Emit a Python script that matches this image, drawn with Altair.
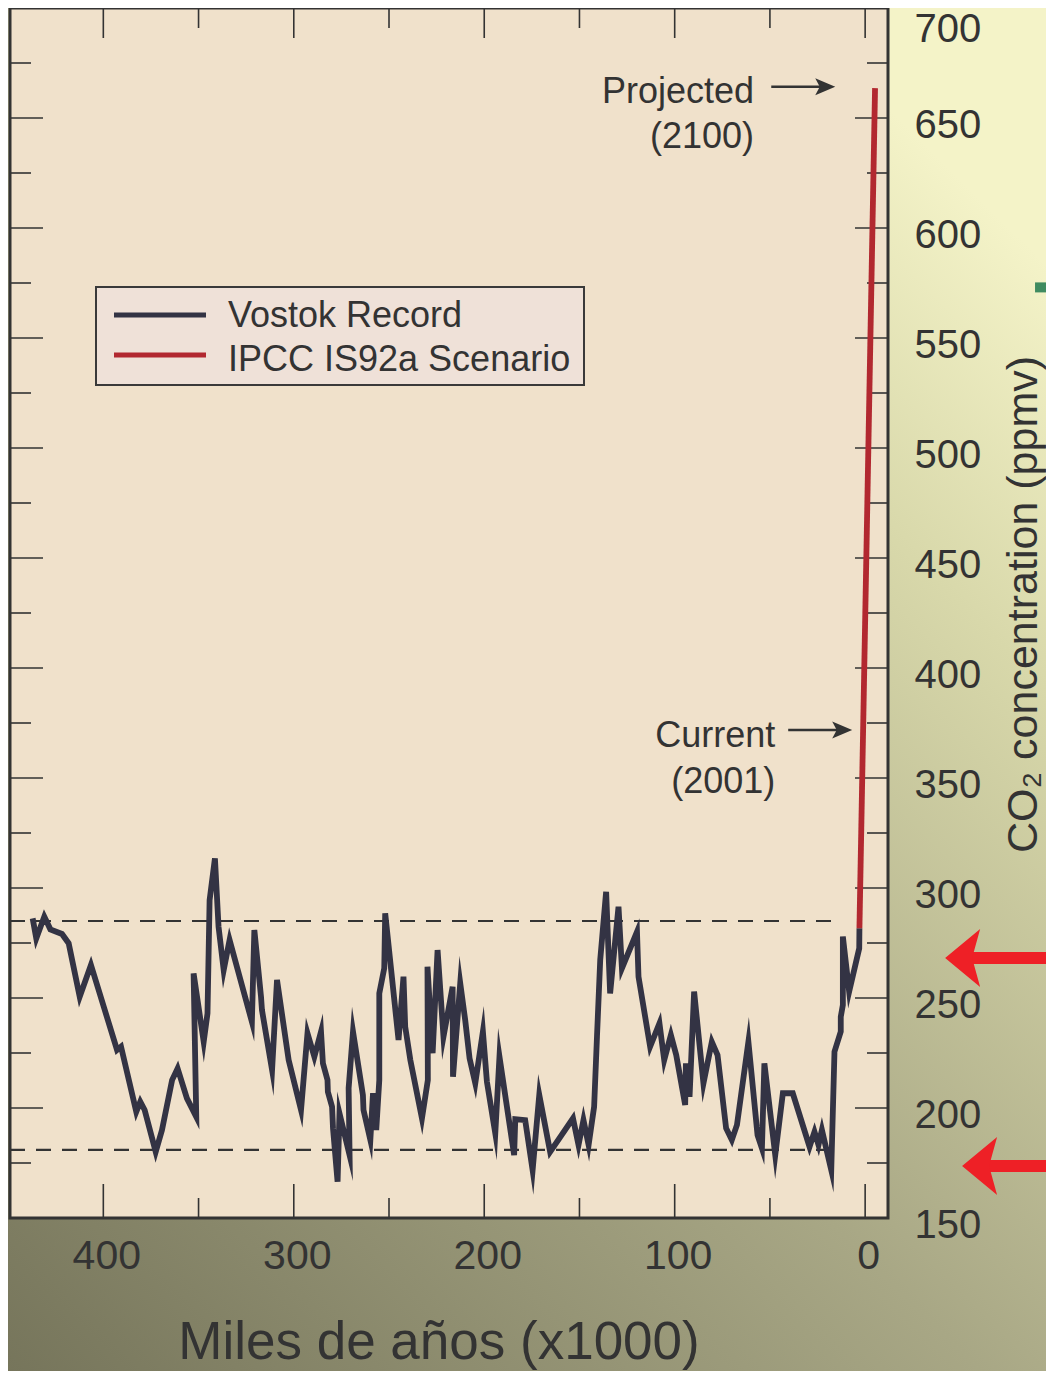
import altair as alt
import pandas as pd

# ---------------- data ----------------
vostok_kyr = [437.1, 435.2, 431.0, 427.8, 421.7, 418.2, 412.4, 406.5, 392.8, 390.7,
              382.7, 380.6, 378.3, 372.5, 369.2, 363.9, 361.0, 356.1, 351.2, 352.6,
              347.3, 345.3, 344.2, 341.4, 339.5, 336.8, 333.7, 322.0, 320.7, 317.2,
              316.7, 311.4, 308.8, 302.7, 296.2, 292.8, 289.2, 285.7, 284.7, 282.3,
              282.1, 279.9, 279.4, 277.0, 276.0, 270.7, 271.2, 268.9, 263.7, 263.4,
              259.8, 258.4, 256.7, 255.1, 255.1, 252.5, 252.0, 245.0, 242.4, 241.5,
              238.8, 232.7, 229.6, 229.8, 227.1, 224.5, 221.4, 216.6, 216.4, 212.6,
              210.0, 207.7, 204.7, 200.7, 198.6, 194.2, 192.0, 184.3, 183.7, 178.5,
              174.6, 171.1, 165.4, 153.4, 150.5, 147.9, 145.2, 142.3, 140.8, 139.1,
              136.0, 133.9, 129.5, 127.7, 119.8, 119.0, 112.9, 108.0, 105.5, 102.0,
              99.2, 94.5, 94.1, 92.2, 89.8, 84.9, 80.5, 77.5, 73.0, 70.0,
              67.3, 61.3, 56.5, 54.2, 52.9, 47.2, 43.2, 38.0, 29.2, 26.6,
              24.5, 22.7, 17.8, 16.1, 12.8, 12.8, 11.7, 11.7, 8.4, 3.1, 3.0]
vostok_ppmv = [286.2, 277.1, 287.0, 281.2, 279.1, 274.9, 250.6, 265.0, 226.4, 227.9,
               198.3, 202.9, 199.1, 180.1, 190.0, 212.7, 218.0, 204.4, 196.0, 261.2,
               230.1, 243.0, 294.5, 313.5, 282.4, 262.7, 276.4, 239.2, 280.9, 250.6,
               244.5, 217.3, 258.2, 221.8, 199.1, 234.0, 223.3, 234.7, 220.3, 212.7,
               207.4, 200.6, 190.8, 166.5, 197.6, 178.6, 209.0, 234.7, 205.9, 199.1,
               185.5, 206.7, 190.0, 212.7, 252.1, 263.5, 288.5, 230.9, 259.7, 237.0,
               221.8, 195.3, 212.7, 264.2, 224.9, 271.8, 232.4, 255.1, 214.2, 256.7,
               240.0, 222.6, 211.2, 234.7, 212.0, 188.5, 223.3, 178.6, 194.9, 194.5,
               171.8, 205.9, 180.1, 195.3, 183.2, 194.5, 183.2, 200.6, 232.4, 267.3,
               298.3, 252.1, 291.5, 263.5, 280.1, 259.7, 227.9, 238.5, 221.8, 233.2,
               224.1, 201.4, 220.3, 205.1, 252.9, 211.2, 230.1, 224.1, 190.8, 185.5,
               192.3, 230.1, 187.7, 181.7, 220.3, 178.6, 206.7, 206.7, 182.4, 189.2,
               183.2, 190.0, 171.8, 225.6, 234.7, 241.5, 246.8, 277.9, 252.9, 272.6, 281.7]
ipcc_kyr = [3.0, -5.2]
ipcc_ppmv = [281.7, 663.6]

series_names = ["Vostok Record", "IPCC IS92a Scenario"]
series_colors = ["#333344", "#b22830"]

x_label_values = [0, 100, 200, 300, 400]
x_minor_ticks = [50, 150, 250, 350]
y_label_values = [150, 200, 250, 300, 350, 400, 450, 500, 550, 600, 650, 700]
y_major_ticks = [200, 250, 300, 350, 400, 450, 500, 550, 600, 650]
y_minor_ticks = [175, 225, 275, 325, 375, 425, 475, 525, 575, 625, 675]

ref_levels = [285.0, 181.0]
ref_from = [449.0, 449.0]
ref_to = [16.8, 16.8]

note_text = ["Projected", "(2100)", "Current", "(2001)"]
note_kyr = [58.3, 58.3, 47.2, 47.2]
note_ppmv = [656.7, 636.4, 364.2, 343.2]

pointer_ppmv = [664.2, 371.8]
pointer_from = [49.3, 40.4]
pointer_to = [15.7, 6.8]

red_arrow_ppmv = [268.2, 173.6]
red_arrow_tip = [-42.0, -50.9]
red_arrow_tail = [-100.0, -100.0]

green_mark_ppmv = [573.0]
green_mark_from = [-89.2]
green_mark_to = [-100.0]

x_title = "Miles de años (x1000)"
y_title = "CO\u2082 concentration (ppmv)"

# ---------------- styling ----------------
W, H = 878, 1210
PAD_L, PAD_T, PAD_R, PAD_B = 2, 0, 158, 153
FONT = "Liberation Sans, Arial, Helvetica, sans-serif"
INK = "#333333"

xs = alt.Scale(domain=[449, -12], nice=False, zero=False)
ys = alt.Scale(domain=[150, 700], nice=False, zero=False)
one = pd.DataFrame({"a": [0]})

x_axis = alt.Axis(values=x_label_values, title=x_title, orient="bottom", domain=False, ticks=False,
                  tickSize=0, grid=False, labelFontSize=41, labelFont=FONT, labelColor=INK,
                  labelPadding=50, labelBaseline="alphabetic", labelFlush=False, labelOverlap=False,
                  labelOffset=3, format="d", titleFontSize=53, titleFont=FONT,
                  titleFontWeight="normal", titleColor=INK, titleX=428.5, titleY=140,
                  titleBaseline="alphabetic", titleAlign="center", zindex=1)
y_axis = alt.Axis(values=y_label_values, title=y_title, orient="right", domain=False, ticks=False,
                  tickSize=0, grid=False, labelFontSize=40, labelFont=FONT, labelColor=INK,
                  labelPadding=26, labelAlign="left", labelBaseline="alphabetic",
                  labelOffset={"condition": {"test": "datum.value >= 700", "value": 33}, "value": 19},
                  labelFlush=False, labelOverlap=False, format="d",
                  titleFontSize=43, titleFont=FONT, titleFontWeight="normal", titleColor=INK,
                  titleAngle=270, titleX=148, titleY=596, titleAlign="center",
                  titleBaseline="alphabetic", zindex=1)


def X(field):
    return alt.X(field, type="quantitative", scale=xs, axis=x_axis)


def Y(field):
    return alt.Y(field, type="quantitative", scale=ys, axis=y_axis)


layers = []

# page background gradient
grad = alt.LinearGradient(
    gradient="linear",
    stops=[alt.GradientStop(offset=0, color="#76755b"),
           alt.GradientStop(offset=0.45, color="#a8a785"),
           alt.GradientStop(offset=0.8, color="#d8d8aa"),
           alt.GradientStop(offset=1, color="#f4f3c8")],
    x1=0, y1=1, x2=0.75, y2=0)
layers.append(alt.Chart(one).mark_rect(fill=grad).encode(
    x=alt.value(-PAD_L), x2=alt.value(W + PAD_R), y=alt.value(-PAD_T), y2=alt.value(H + PAD_B)))

# plot area
layers.append(alt.Chart(one).mark_rect(fill="#f0e1cb").encode(
    x=alt.value(0), x2=alt.value(W), y=alt.value(0), y2=alt.value(H)))


# inward ticks
def xticks(vals, length, top):
    df = pd.DataFrame({"t": vals})
    yy, yy2 = (0, length) if top else (H, H - length)
    return alt.Chart(df).mark_rule(color=INK, strokeWidth=1.6).encode(
        x=X("t"), y=alt.value(yy), y2=alt.value(yy2))


def yticks(vals, length, right):
    df = pd.DataFrame({"t": vals})
    xx, xx2 = (W, W - length) if right else (0, length)
    return alt.Chart(df).mark_rule(color=INK, strokeWidth=1.6).encode(
        y=Y("t"), x=alt.value(xx), x2=alt.value(xx2))


layers += [xticks(x_label_values, 34, False), xticks(x_minor_ticks, 20, False),
           xticks(x_label_values, 30, True), xticks(x_minor_ticks, 20, True),
           yticks(y_major_ticks, 33, False), yticks(y_minor_ticks, 21, False),
           yticks(y_major_ticks, 33, True), yticks(y_minor_ticks, 21, True)]

# dashed reference levels
ref_df = pd.DataFrame({"y": ref_levels, "x1": ref_from, "x2": ref_to})
layers.append(alt.Chart(ref_df).mark_rule(color=INK, strokeWidth=2.2, strokeDash=[15, 11]).encode(
    x=X("x1"), x2="x2:Q", y=Y("y")))

# main series
rows = []
for i, (k, p) in enumerate(zip(vostok_kyr, vostok_ppmv)):
    rows.append({"kyr": k, "ppmv": p, "series": series_names[0], "idx": i})
for i, (k, p) in enumerate(zip(ipcc_kyr, ipcc_ppmv)):
    rows.append({"kyr": k, "ppmv": p, "series": series_names[1], "idx": i})
line_df = pd.DataFrame(rows)

layers.append(alt.Chart(line_df).mark_line(strokeWidth=5.8, strokeJoin="miter", strokeMiterLimit=10).encode(
    x=X("kyr"), y=Y("ppmv"),
    color=alt.Color("series:N", scale=alt.Scale(domain=series_names, range=series_colors), legend=None),
    order="idx:Q"))

# annotations
note_df = pd.DataFrame({"t": note_text, "x": note_kyr, "y": note_ppmv})
layers.append(alt.Chart(note_df).mark_text(align="right", baseline="alphabetic", fontSize=36,
                                           font=FONT, color=INK).encode(
    x=X("x"), y=Y("y"), text="t:N"))

ptr_df = pd.DataFrame({"y": pointer_ppmv, "x1": pointer_from, "x2": pointer_to})
layers.append(alt.Chart(ptr_df).mark_rule(color=INK, strokeWidth=2.5, x2Offset=-8).encode(
    x=X("x1"), x2=alt.X2("x2:Q"), y=Y("y")))
small_head = "M 1 0 L -1 -0.85 L -0.55 0 L -1 0.85 Z"
layers.append(alt.Chart(ptr_df).mark_point(shape=small_head, size=400, filled=True, color=INK,
                                           opacity=1, xOffset=-10).encode(
    x=X("x2"), y=Y("y")))

# legend
legend_top = [307, 347]
legend_text_base = [318.7, 362.7]
layers.append(alt.Chart(one).mark_rect(fill="#efe1d8", stroke="#3a3a3a", strokeWidth=2).encode(
    x=alt.value(86), x2=alt.value(574), y=alt.value(279), y2=alt.value(377)))
for name, col, ly, ty in zip(series_names, series_colors, legend_top, legend_text_base):
    layers.append(alt.Chart(one).mark_rule(color=col, strokeWidth=5).encode(
        x=alt.value(104), x2=alt.value(196), y=alt.value(ly)))
    layers.append(alt.Chart(one).mark_text(align="left", baseline="alphabetic", fontSize=36,
                                           font=FONT, color=INK, text=name).encode(
        x=alt.value(218), y=alt.value(ty)))

# red arrows on the right
red_df = pd.DataFrame({"y": red_arrow_ppmv, "tip": red_arrow_tip, "tail": red_arrow_tail})
layers.append(alt.Chart(red_df).mark_rule(color="#ee2026", strokeWidth=12, xOffset=24).encode(
    x=X("tip"), x2="tail:Q", y=Y("y")))
big_head = "M -1 0 L 0.207 -1 L -0.069 0 L 0.207 1 Z"
layers.append(alt.Chart(red_df).mark_point(shape=big_head, size=3364, filled=True, color="#ee2026",
                                           opacity=1, xOffset=29).encode(
    x=X("tip"), y=Y("y")))

green_df = pd.DataFrame({"y": green_mark_ppmv, "x1": green_mark_from, "x2": green_mark_to})
layers.append(alt.Chart(green_df).mark_rule(color="#3f8b60", strokeWidth=10).encode(
    x=X("x1"), x2="x2:Q", y=Y("y")))

# frame
layers.append(alt.Chart(one).mark_rect(fillOpacity=0, stroke=INK, strokeWidth=3).encode(
    x=alt.value(0), x2=alt.value(W), y=alt.value(0), y2=alt.value(H)))

chart = alt.layer(*layers).properties(
    width=W, height=H,
    padding={"left": PAD_L, "top": PAD_T, "right": PAD_R, "bottom": PAD_B},
    autosize=alt.AutoSizeParams(type="none"),
    background="#a8a785",
).configure_view(strokeWidth=0)

chart.save("out.html", embed_options={"renderer": "svg", "actions": False})
